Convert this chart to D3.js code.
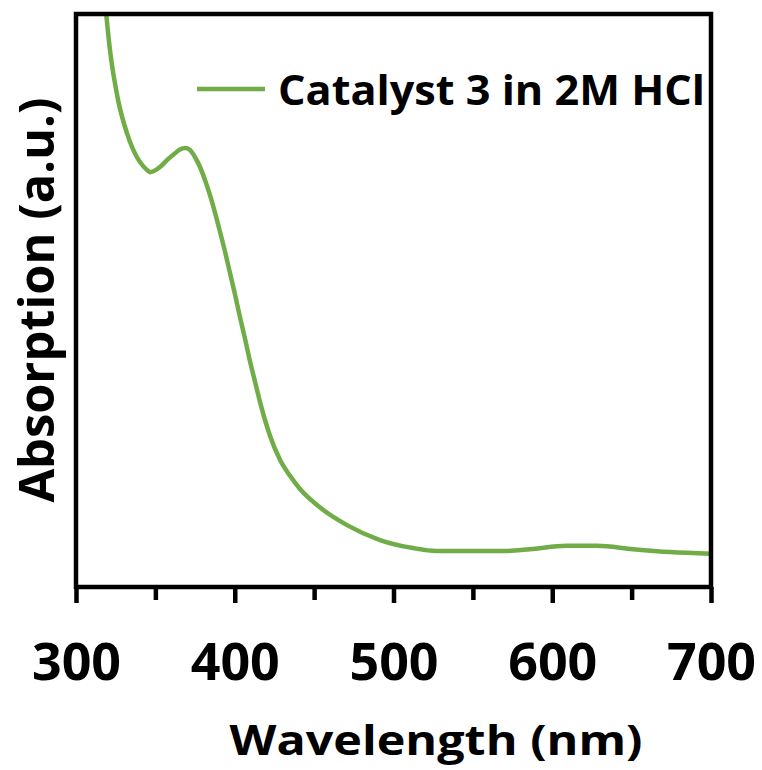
<!DOCTYPE html>
<html>
<head>
<meta charset="utf-8">
<script src="https://cdn.jsdelivr.net/npm/d3@7"></script>
<style>
  html, body { margin: 0; padding: 0; background: #fff; }
  svg { display: block; }
  text { font-family: "Open Sans", "DejaVu Sans", sans-serif; font-weight: 700; fill: #000; }
</style>
</head>
<body>
<svg id="chart" width="762" height="770"></svg>
<script>
// UV-Vis absorption spectrum (arbitrary units)
const wavelength = [318, 321.4, 326.5, 332.1, 338.4, 342.2, 344.7, 346.6, 349.1, 352.9,
  357.3, 362.4, 365.5, 368.7, 371.8, 375.0, 378.1, 381.3, 384.4, 387.6,
  390.7, 393.9, 397.0, 400.2, 403.3, 406.5, 409.6, 412.8, 415.9, 419.1,
  422.2, 428.5, 434.8, 441.1, 451.8, 470.7, 491.5, 512.3, 527.4, 548.2,
  571.5, 586.0, 609.3, 628.2, 650.9, 674.2, 700];
const absorption = [1.03, 0.937, 0.850, 0.792, 0.750, 0.735, 0.728, 0.724, 0.726, 0.733,
  0.745, 0.757, 0.7635, 0.766, 0.7627, 0.750, 0.733, 0.710, 0.684, 0.653,
  0.620, 0.585, 0.548, 0.510, 0.471, 0.433, 0.394, 0.358, 0.323, 0.291,
  0.264, 0.222, 0.194, 0.171, 0.143, 0.108, 0.082, 0.068, 0.063, 0.063,
  0.063, 0.066, 0.072, 0.072, 0.066, 0.061, 0.058];
const majorTicks = [300, 400, 500, 600, 700];
const minorTicks = [350, 450, 550, 650];
const seriesName = "Catalyst 3 in 2M HCl";
const xTitle = "Wavelength (nm)";
const yTitle = "Absorption (a.u.)";

const plot = { left: 76, right: 711, top: 14, bottom: 587 };
const green = "#70AD47";

const svg = d3.select("#chart");

const x = d3.scaleLinear().domain([300, 700]).range([plot.left, plot.right]);
const y = d3.scaleLinear().domain([0, 1]).range([plot.bottom, plot.top]);

svg.append("defs").append("clipPath").attr("id", "plotClip")
  .append("rect")
  .attr("x", plot.left).attr("y", plot.top)
  .attr("width", plot.right - plot.left).attr("height", plot.bottom - plot.top);

// spectrum line
const pts = wavelength.map((w, i) => [w, absorption[i]]);
const line = d3.line().x(d => x(d[0])).y(d => y(d[1])).curve(d3.curveMonotoneX);
svg.append("path")
  .datum(pts)
  .attr("clip-path", "url(#plotClip)")
  .attr("d", line)
  .attr("fill", "none")
  .attr("stroke", green)
  .attr("stroke-width", 4.5)
  .attr("stroke-linejoin", "round");

// minor ticks
const minorAxis = d3.axisBottom(x).tickValues(minorTicks).tickSize(13).tickFormat("");
const gMinor = svg.append("g").attr("transform", `translate(0,${plot.bottom})`).call(minorAxis);
gMinor.select(".domain").remove();
gMinor.selectAll(".tick line").attr("stroke", "#000").attr("stroke-width", 4.5);

// major ticks with labels
const majorAxis = d3.axisBottom(x).tickValues(majorTicks).tickSize(16).tickFormat(d3.format("d"));
const gMajor = svg.append("g").attr("transform", `translate(0,${plot.bottom})`).call(majorAxis);
gMajor.select(".domain").remove();
gMajor.selectAll(".tick line").attr("stroke", "#000").attr("stroke-width", 4.5);
gMajor.selectAll(".tick text")
  .attr("y", 93).attr("dy", 0)
  .attr("font-size", 52)
  .attr("font-family", "'Open Sans', sans-serif")
  .attr("font-weight", 700)
  .attr("fill", "#000");

// plot frame
svg.append("rect")
  .attr("x", plot.left).attr("y", plot.top)
  .attr("width", plot.right - plot.left).attr("height", plot.bottom - plot.top)
  .attr("fill", "none").attr("stroke", "#000").attr("stroke-width", 4.5);

// axis titles
svg.append("text")
  .attr("x", 436).attr("y", 755)
  .attr("text-anchor", "middle")
  .attr("font-size", 42)
  .attr("textLength", 413).attr("lengthAdjust", "spacingAndGlyphs")
  .text(xTitle);

svg.append("text")
  .attr("transform", "translate(54,300) rotate(-90)")
  .attr("text-anchor", "middle")
  .attr("font-size", 48)
  .attr("textLength", 405).attr("lengthAdjust", "spacingAndGlyphs")
  .text(yTitle);

// legend
svg.append("line")
  .attr("x1", 197).attr("x2", 265).attr("y1", 89).attr("y2", 89)
  .attr("stroke", green).attr("stroke-width", 4.5);
svg.append("text")
  .attr("x", 278).attr("y", 105)
  .attr("font-size", 42)
  .attr("textLength", 427).attr("lengthAdjust", "spacingAndGlyphs")
  .text(seriesName);
</script>
</body>
</html>
